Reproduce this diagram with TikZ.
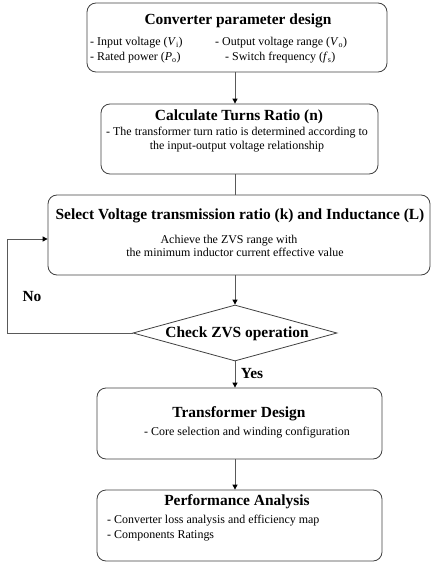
\documentclass[tikz,border=0pt]{standalone}
\usepackage{fontspec}
\setmainfont{Liberation Serif}
\usetikzlibrary{shapes.geometric,arrows.meta}
\begin{document}
\begin{tikzpicture}[x=1bp,y=-1bp,
  box/.style={draw=black!75, line width=0.8bp, rounded corners=9bp, inner sep=0pt},
  ttl/.style={font=\fontsize{15.5}{18}\selectfont\bfseries, inner sep=0pt, text height=11bp, text depth=3bp},
  txt/.style={font=\fontsize{12}{14}\selectfont, inner sep=0pt, text height=9bp, text depth=3bp},
  conn/.style={draw=black!65, line width=0.9bp},
  arr/.style={conn, -{Triangle[length=5bp,width=5bp,color=black]}}]
\useasboundingbox (0,0) rectangle (432,563);

% boxes
\node[box, minimum width=300bp, minimum height=69bp] (b1) at (237,37.5) {};
\node[box, minimum width=277bp, minimum height=70bp] (b2) at (239.5,139) {};
\node[box, minimum width=382bp, minimum height=80bp] (b3) at (239,235) {};
\node[draw=black!75, line width=0.8bp, diamond, inner sep=0pt, minimum width=204bp, minimum height=56bp] (d) at (235,333) {};
\node[box, minimum width=285bp, minimum height=71bp] (b4) at (239.5,423.5) {};
\node[box, minimum width=285bp, minimum height=71bp] (b5) at (239.5,525.5) {};

% box 1 text
\node[ttl] (t1) at (238,21) {Converter parameter design};
\node[txt, anchor=west] (t1a) at (90,43) {- Input voltage (\textit{V}\textsubscript{i})};
\node[txt, anchor=west] (t1b) at (90,58) {- Rated power (\textit{P}\textsubscript{o})};
\node[txt, anchor=west] (t1c) at (215,43) {- Output voltage range (\textit{V}\textsubscript{o})};
\node[txt, anchor=west] (t1d) at (225,58) {- Switch frequency (\textit{f}\textsubscript{s})};

% box 2 text
\node[ttl] (t2) at (239,117) {Calculate Turns Ratio (n)};
\node[txt] (t2a) at (237,133) {- The transformer turn ratio is determined according to};
\node[txt] (t2b) at (237,147) {the input-output voltage relationship};

% box 3 text
\node[ttl] (t3) at (240,215) {Select Voltage transmission ratio (k) and Inductance (L)};
\node[txt] (t3a) at (229,240) {Achieve the ZVS range with};
\node[txt] (t3b) at (235,253) {the minimum inductor current effective value};

% diamond text
\node[ttl] (td) at (237,333) {Check ZVS operation};

% box 4 text
\node[ttl] (t4) at (239,413) {Transformer Design};
\node[txt] (t4a) at (247,432) {- Core selection and winding configuration};

% box 5 text
\node[ttl] (t5) at (237,501) {Performance Analysis};
\node[txt, anchor=west] (t5a) at (107,520) {- Converter loss analysis and efficiency map};
\node[txt, anchor=west] (t5b) at (107,535) {- Components Ratings};

% labels
\node[ttl] (yes) at (252,374) {Yes};
\node[ttl] (no) at (32,297) {No};

% connectors
\draw[arr] (d.north |- b1.south) -- (d.north |- b2.north);
\draw[conn] (d.north |- b2.south) -- (d.north |- b3.north);
\draw[arr] (d.north |- b3.south) -- (d.north);
\draw[arr] (d.south) -- (d.south |- b4.north);
\draw[arr] (d.south |- b4.south) -- (d.south |- b5.north);
\coordinate (lp) at (7,239);
\draw[arr] (d.west) -| (lp) -- (b3.west |- lp);
\end{tikzpicture}
\end{document}
